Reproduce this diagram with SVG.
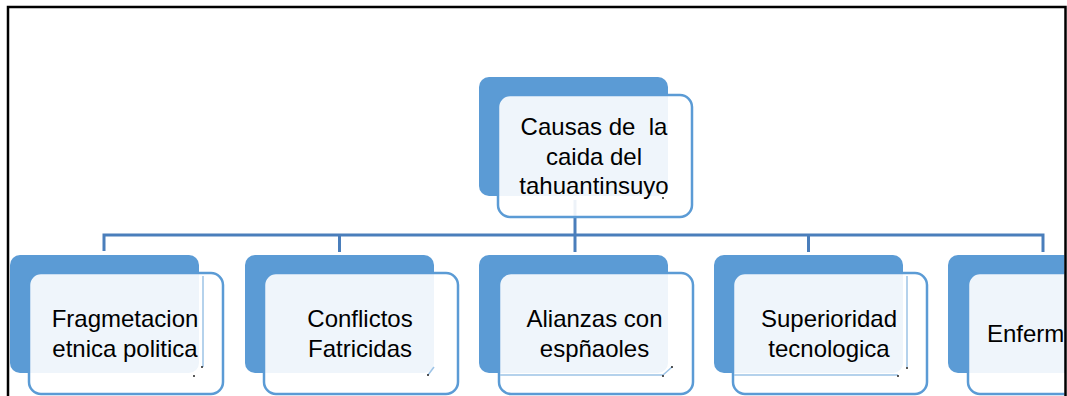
<svg xmlns="http://www.w3.org/2000/svg" width="1067" height="396" viewBox="0 0 1067 396">
<defs>
<style>
.back{fill:#5B9BD5;}
.front{fill:#FFFFFF;fill-opacity:0.9;stroke:#5B9BD5;stroke-width:2.5;}
.conn{fill:none;stroke:#4A7EBB;stroke-width:3;}
.lbl{font-family:"Liberation Sans",Arial,sans-serif;font-size:24px;fill:#000;text-anchor:middle;}
.faint{fill:none;stroke:#9DC3E6;stroke-width:1.5;}
.dot{fill:#222;}
</style>
<clipPath id="frame"><rect x="0" y="0" width="1064.5" height="396"/></clipPath>
</defs>
<rect width="1067" height="396" fill="#FFFFFF"/>
<g clip-path="url(#frame)">
<g id="connectors">
<path class="conn" d="M575 200 V235"/>
<path class="conn" d="M104 251 V235 H1043 V252"/>
<path class="conn" d="M339.5 235 V252"/>
<path class="conn" d="M575 235 V252"/>
<path class="conn" d="M808.5 235 V252"/>
</g>
<g id="root">
<rect class="back" x="479" y="77" width="189" height="119" rx="10"/>
<rect class="front" x="498" y="95" width="194" height="122" rx="12"/>
<text class="lbl" xml:space="preserve" x="594" y="135">Causas de  la</text>
<text class="lbl" x="594" y="164.5">caida del</text>
<text class="lbl" x="594" y="194">tahuantinsuyo</text>
<circle class="dot" cx="663" cy="198" r="1"/>
</g>
<g id="n1">
<rect class="back" x="10" y="255" width="189" height="118" rx="10"/>
<rect class="front" x="29" y="273" width="194" height="121" rx="12"/>
<path class="faint" d="M203 276 V367"/>
<text class="lbl" x="125" y="327">Fragmetacion</text>
<text class="lbl" x="125" y="357">etnica politica</text>
<circle class="dot" cx="202" cy="367" r="1"/>
<circle class="dot" cx="194" cy="376" r="1"/>
</g>
<g id="n2">
<rect class="back" x="245" y="255" width="189" height="118" rx="10"/>
<rect class="front" x="264" y="273" width="194" height="121" rx="12"/>
<text class="lbl" x="360" y="327">Conflictos</text>
<text class="lbl" x="360" y="357">Fatricidas</text>
<path class="faint" d="M428 375 L434 367"/>
<circle class="dot" cx="428" cy="375" r="1"/>
</g>
<g id="n3">
<rect class="back" x="479" y="255" width="189" height="118" rx="10"/>
<rect class="front" x="499" y="273" width="194" height="121" rx="12"/>
<path class="faint" d="M500 375 H663 L672 367"/>
<text class="lbl" x="594.5" y="327">Alianzas con</text>
<text class="lbl" x="594.5" y="357">espñaoles</text>
<circle class="dot" cx="663" cy="376" r="1"/>
<circle class="dot" cx="672" cy="367" r="1"/>
</g>
<g id="n4">
<rect class="back" x="714" y="255" width="189" height="118" rx="10"/>
<rect class="front" x="733" y="273" width="194" height="121" rx="12"/>
<path class="faint" d="M907 276 V367 M734 375 H898"/>
<text class="lbl" x="829" y="327">Superioridad</text>
<text class="lbl" x="829" y="357">tecnologica</text>
<circle class="dot" cx="907" cy="368" r="1"/>
<circle class="dot" cx="898" cy="376" r="1"/>
</g>
<g id="n5">
<rect class="back" x="948" y="255" width="189" height="118" rx="10"/>
<rect class="front" x="968" y="273" width="194" height="121" rx="12"/>
<text class="lbl" x="987" y="342" style="text-anchor:start">Enferm</text>
</g>
</g>
<path d="M8 396 V7 H1065.5 V396" fill="none" stroke="#000" stroke-width="2.5"/>
</svg>
